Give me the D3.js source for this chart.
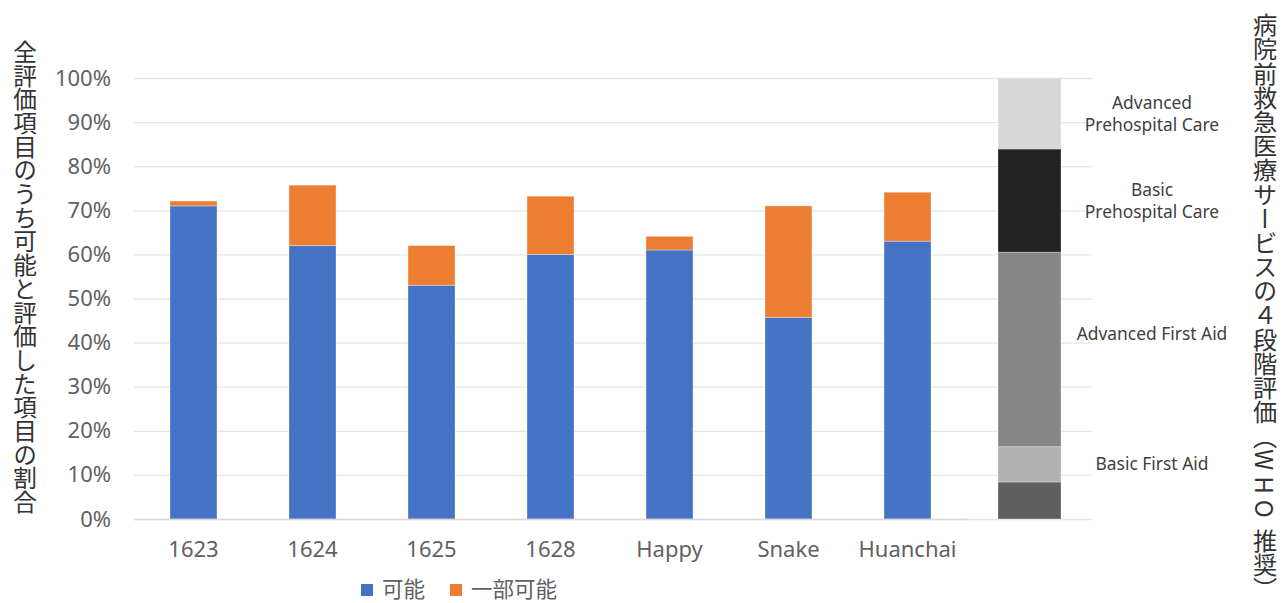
<!DOCTYPE html>
<html lang="ja">
<head>
<meta charset="utf-8">
<script src="https://cdn.jsdelivr.net/npm/d3@7"></script>
<style>
  html, body { margin: 0; padding: 0; background: #fff; }
  svg { display: block; }
  text { font-family: "Noto Sans", "Noto Sans CJK JP", sans-serif; }
  .cjk { font-family: "Noto Sans CJK JP", "Noto Sans", sans-serif; }
</style>
</head>
<body>
<script>
// Sites surveyed
const categories = ["1623", "1624", "1625", "1628", "Happy", "Snake", "Huanchai"];
// Share of all assessed items rated "possible" (%)
const possible = [71, 62, 53, 60, 61, 45.7, 63];
// Share rated "partly possible" (%)
const partlyPossible = [1.1, 13.7, 9, 13.2, 3.1, 25.3, 11.1];
const seriesNames = ["可能", "一部可能"];
const yTicks = [0, 10, 20, 30, 40, 50, 60, 70, 80, 90, 100];

// WHO four-level prehospital care scale, stacked bottom to top (%)
const stageNames = ["", "Basic First Aid", "Advanced First Aid", "Basic Prehospital Care", "Advanced Prehospital Care"];
const stageShares = [8.4, 8.0, 44.1, 23.4, 16.1];
const stageLabelLines = [[], ["Basic First Aid"], ["Advanced First Aid"], ["Basic", "Prehospital Care"], ["Advanced", "Prehospital Care"]];

const yTitle = "全評価項目のうち可能と評価した項目の割合";
const rightTitleParts = ["病院前救急医療サービスの４段階評価（", "WHO", " 推奨）"];

const W = 1287, H = 603;
const seriesColors = ["#4472C4", "#ED7D31"];
const stageColors = ["#5f5f5f", "#b1b1b1", "#878787", "#212121", "#d9d8d8"];
const tickColor = "#616161";

const svg = d3.select("body").append("svg").attr("width", W).attr("height", H);

const y = d3.scaleLinear().domain([0, 100]).range([519, 78]);
const x = d3.scaleBand().domain(categories).range([134, 967]).paddingInner(0.605).paddingOuter(0.3025);
const xs = d3.scaleBand().domain(["stage"]).range([998, 1061]);

// Horizontal gridlines spanning both panels
const grid = svg.append("g").attr("transform", "translate(134,0)")
  .call(d3.axisLeft(y).tickValues(yTicks).tickSize(-(1092 - 134)).tickFormat(""));
grid.select(".domain").remove();
grid.selectAll(".tick line").attr("stroke", "#e6e6e6").attr("stroke-width", 1.3);

// Y tick labels
const yAxis = svg.append("g").attr("transform", "translate(111,0)")
  .call(d3.axisLeft(y).tickValues(yTicks).tickSize(0).tickPadding(0).tickFormat(d => d + "%"));
yAxis.select(".domain").remove();
yAxis.selectAll("text").attr("fill", tickColor).style("font-size", "22px")
  .style("font-family", "'Noto Sans', sans-serif");

// Stacked bars
const rows = categories.map((c, i) => ({ cat: c, [seriesNames[0]]: possible[i], [seriesNames[1]]: partlyPossible[i] }));
const stacked = d3.stack().keys(seriesNames)(rows);
svg.append("g").selectAll("g").data(stacked).join("g")
  .attr("fill", (d, i) => seriesColors[i])
  .selectAll("rect").data(d => d).join("rect")
  .attr("x", d => x(d.data.cat))
  .attr("width", x.bandwidth())
  .attr("y", d => y(d[1]))
  .attr("height", d => y(d[0]) - y(d[1]))
  .attr("stroke", "#ffffff").attr("stroke-opacity", 0.35).attr("stroke-width", 1);

// X axis baseline and category labels
const xAxis = svg.append("g").attr("transform", "translate(0,519)")
  .call(d3.axisBottom(x).tickSize(0).tickPadding(30));
xAxis.select(".domain").attr("stroke", "#d9d9d9").attr("stroke-width", 1.3);
xAxis.selectAll("text").attr("fill", tickColor).style("font-size", "22px")
  .attr("dy", "0.35em").style("font-family", "'Noto Sans', sans-serif");

// WHO stage column
const stageRow = { key: "stage" };
stageNames.forEach((n, i) => stageRow["s" + i] = stageShares[i]);
const stageStack = d3.stack().keys(stageNames.map((n, i) => "s" + i))([stageRow]);
svg.append("g").selectAll("rect").data(stageStack).join("rect")
  .attr("x", xs("stage"))
  .attr("width", xs.bandwidth())
  .attr("y", d => y(d[0][1]))
  .attr("height", d => y(d[0][0]) - y(d[0][1]))
  .attr("fill", (d, i) => stageColors[i])
  .attr("stroke", "#ffffff").attr("stroke-opacity", 0.3).attr("stroke-width", 1);

// Stage labels, centred on each segment (the wide first-aid band reads a little high)
const labelShift = { "Advanced First Aid": -16 };
const stageLabels = svg.append("g").attr("fill", "#404040").style("font-size", "17.4px");
stageStack.forEach((s, i) => {
  const lines = stageLabelLines[i];
  if (!lines.length) return;
  const cy = y((s[0][0] + s[0][1]) / 2) + (labelShift[stageNames[i]] || 0);
  const t = stageLabels.append("text").attr("x", 1152).attr("text-anchor", "middle");
  lines.forEach((ln, j) => {
    t.append("tspan").attr("x", 1152)
      .attr("y", cy + (j - (lines.length - 1) / 2) * 22)
      .attr("dy", "0.35em").text(ln);
  });
});

// Vertical axis titles
svg.append("text").attr("class", "cjk")
  .attr("x", 25).attr("y", 40)
  .style("writing-mode", "vertical-rl")
  .style("font-size", "23.7px").attr("fill", "#333")
  .text(yTitle);

const rt = svg.append("text").attr("class", "cjk")
  .attr("x", 1265).attr("y", 13)
  .style("writing-mode", "vertical-rl")
  .style("font-size", "24.2px").attr("fill", "#333");
rightTitleParts.forEach((p, i) => {
  const ts = rt.append("tspan").text(p);
  if (i === 1) ts.style("letter-spacing", "6px");
});

// Legend
const legend = svg.append("g").attr("class", "cjk");
const legendX = [361, 450];
seriesNames.forEach((n, i) => {
  legend.append("rect").attr("x", legendX[i]).attr("y", 584).attr("width", 12).attr("height", 12)
    .attr("fill", seriesColors[i]);
  legend.append("text").attr("class", "cjk").attr("x", legendX[i] + 21).attr("y", 589)
    .attr("dy", "0.35em").attr("fill", tickColor).style("font-size", "21.5px").text(n);
});
</script>
</body>
</html>
